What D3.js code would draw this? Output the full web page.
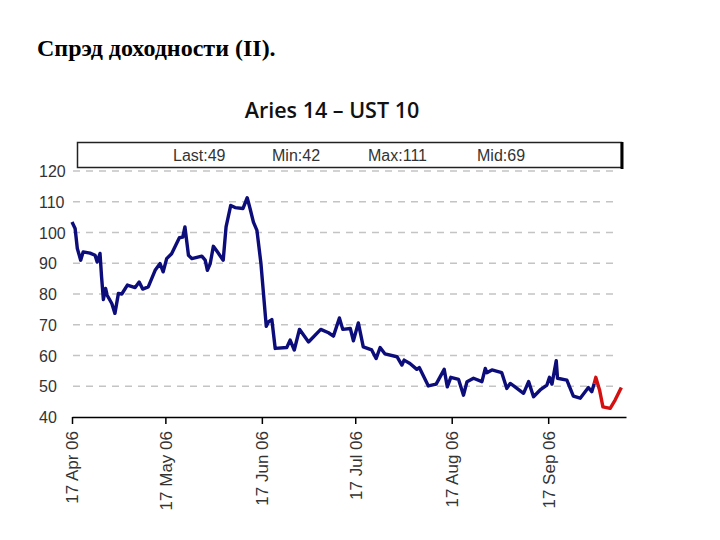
<!DOCTYPE html>
<html lang="ru">
<head>
<meta charset="utf-8">
<style>
	body { margin: 0; background: white; }
	.head { font-family: "Liberation Serif", "Times New Roman", serif; font-weight: bold; font-size: 24px; fill: black; }
	.title { font-family: "Open Sans", sans-serif; font-weight: 600; font-size: 21.5px; fill: #111; }
	.stat { font-family: "Liberation Sans", Arial, sans-serif; font-size: 16px; fill: #333; }
	.tick text { font-family: "Liberation Sans", Arial, sans-serif; font-size: 17px; fill: #333; }
	.grid line { stroke: #c4c4c4; stroke-width: 1.5px; stroke-dasharray: 7,6; }
	.spread { fill: none; stroke-width: 3.4px; stroke-linejoin: round; }
</style>
<script src="https://d3js.org/d3.v7.min.js"></script>
</head>
<body>
<script>
var width = 720, height = 540;

// days after 17 Apr 06 and spread values (bp)
var blueDays = [0, 1.0, 1.7, 2.8, 3.6, 5.8, 7.4, 8.1, 9.0, 9.5, 10.1, 10.8, 11.3, 12.8, 13.8, 14.9, 16.0, 17.8, 20.3, 21.6,
	22.7, 24.5, 26.7, 28.3, 29.3, 30.4, 32.0, 34.5, 35.6, 36.3, 37.4, 38.5, 41.7, 42.8, 43.5, 44.4, 45.4, 46.7, 48.6, 49.5,
	51.0, 52.4, 54.9, 56.3, 57.2, 58.3, 59.4, 60.7, 62.4, 63.1, 64.2, 65.3, 69.0, 70.1, 71.4, 73.1, 76.0, 79.9, 82.4, 84.0,
	85.9, 87.0, 89.4, 90.4, 92.0, 93.6, 96.3, 97.7, 99.0, 100.6, 104.4, 106.0, 106.7, 108.6, 110.8, 111.6, 114.5, 117.0, 119.6, 120.6,
	121.7, 124.2, 125.8, 126.9, 129.0, 131.7, 132.8, 133.3, 134.9, 138.1, 139.7, 140.8, 141.9, 145.1, 146.7, 148.3, 150.4, 152.6, 153.4, 154.2,
	155.6, 156.0, 159.0, 161.1, 163.3, 165.9, 167.0, 167.8];
var blueValues = [103.4, 101.3, 94.8, 91.0, 93.7, 93.3, 92.6, 90.4, 93.2, 85.6, 78.2, 81.8, 79.6, 76.9, 73.7, 80.2, 80.0, 82.9, 82.1, 83.9,
	81.6, 82.3, 87.7, 89.9, 87.2, 91.5, 93.1, 98.3, 98.5, 101.8, 92.6, 91.5, 92.3, 91.0, 87.7, 89.9, 95.5, 93.7, 91.0, 101.8,
	108.8, 108.1, 107.8, 111.3, 107.8, 103.4, 100.7, 89.9, 69.5, 70.9, 71.7, 62.3, 62.6, 65.0, 61.8, 68.5, 64.4, 68.5, 67.4, 66.3,
	72.2, 68.5, 68.8, 64.8, 70.6, 62.8, 61.8, 59.0, 62.6, 60.5, 59.6, 56.9, 58.5, 57.4, 55.5, 56.1, 50.1, 50.7, 55.5, 49.8,
	52.9, 52.2, 47.1, 51.5, 52.6, 51.5, 55.8, 54.4, 55.3, 54.4, 49.3, 50.9, 50.1, 47.7, 51.5, 46.6, 48.8, 50.4, 52.9, 50.7,
	58.3, 52.6, 52.0, 46.8, 46.1, 49.6, 48.2, 50.9];
var redDays = [167.8, 168.3, 169.5, 170.6, 172.9, 174.5, 176.5];
var redValues = [50.9, 52.9, 48.8, 43.3, 42.8, 45.5, 49.6];

var tickDates = ["2006-04-17", "2006-05-17", "2006-06-17", "2006-07-17", "2006-08-17", "2006-09-17"];
var gridValues = [50, 60, 70, 80, 90, 100, 110, 120];
var yTicks = [40, 50, 60, 70, 80, 90, 100, 110, 120];
var stats = ["Last:49", "Min:42", "Max:111", "Mid:69"];

var parse = d3.timeParse("%Y-%m-%d");
var start = parse("2006-04-17");
function toDate(d) { return d3.timeHour.offset(start, Math.round(d * 24)); }

var svg = d3.select("body").append("svg")
	.attr("width", width)
	.attr("height", height);

svg.append("text").attr("class", "head")
	.attr("x", 37).attr("y", 56)
	.text("Спрэд доходности (II).");

svg.append("text").attr("class", "title")
	.attr("x", 332).attr("y", 118)
	.attr("text-anchor", "middle")
	.text("Aries 14 \u2013 UST 10");

var x = d3.scaleTime()
	.domain([start, parse("2006-10-12")])
	.range([72, 626]);
var y = d3.scaleLinear()
	.domain([40, 120])
	.range([417, 171]);

// dashed grid
svg.append("g").attr("class", "grid")
	.selectAll("line").data(gridValues).enter().append("line")
	.attr("x1", 73).attr("x2", 615)
	.attr("y1", function(d) { return y(d); })
	.attr("y2", function(d) { return y(d); });

// y labels (left aligned, no axis line)
svg.append("g").selectAll("text").data(yTicks).enter().append("text")
	.attr("class", "stat")
	.attr("x", 39)
	.attr("y", function(d) { return y(d) + 6; })
	.text(function(d) { return d; });

// x axis
var xAxis = svg.append("g")
	.attr("transform", "translate(0," + 417 + ")")
	.call(d3.axisBottom(x)
		.tickValues(tickDates.map(parse))
		.tickSize(7)
		.tickSizeOuter(0)
		.tickFormat(d3.timeFormat("%d %b %y")));
xAxis.select(".domain").attr("stroke", "black").attr("stroke-width", 1.5);
xAxis.selectAll(".tick line").attr("stroke", "black").attr("stroke-width", 1.5);
xAxis.selectAll(".tick text")
	.attr("transform", "rotate(-90)")
	.attr("text-anchor", "end")
	.attr("x", -14)
	.attr("y", 0)
	.attr("dy", "0.35em");

var line = d3.line()
	.x(function(d) { return x(toDate(d[0])); })
	.y(function(d) { return y(d[1]); });

svg.append("path").attr("class", "spread")
	.datum(d3.zip(blueDays, blueValues))
	.attr("stroke", "#0c0c7a")
	.attr("d", line);

svg.append("path").attr("class", "spread")
	.datum(d3.zip(redDays, redValues))
	.attr("stroke", "#d41010")
	.attr("d", line);

// stats box
svg.append("rect")
	.attr("x", 77.5).attr("y", 142.5)
	.attr("width", 544).attr("height", 25)
	.attr("fill", "white")
	.attr("stroke", "#222").attr("stroke-width", 1.5);
svg.append("line")
	.attr("x1", 622).attr("x2", 622)
	.attr("y1", 142).attr("y2", 169)
	.attr("stroke", "black").attr("stroke-width", 3);

var statX = [173, 272, 368, 477];
svg.append("g").selectAll("text").data(stats).enter().append("text")
	.attr("class", "stat")
	.attr("x", function(d, i) { return statX[i]; })
	.attr("y", 161)
	.text(function(d) { return d; });
</script>
</body>
</html>
